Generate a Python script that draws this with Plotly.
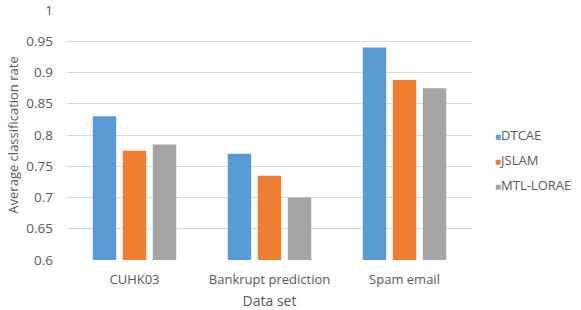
import plotly.graph_objects as go

categories = ["CUHK03", "Bankrupt prediction", "Spam email"]
dtcae = [0.83, 0.77, 0.94]
jslam = [0.775, 0.735, 0.888]
mtl_lorae = [0.785, 0.70, 0.875]
series_names = ["DTCAE", "JSLAM", "MTL-LORAE"]
colors = ["#5B9BD5", "#ED7D31", "#A5A5A5"]
y_ticks = [0.6, 0.65, 0.7, 0.75, 0.8, 0.85, 0.9, 0.95, 1]
y_tick_labels = ["0.6", "0.65", "0.7", "0.75", "0.8", "0.85", "0.9", "0.95", "1"]

fig = go.Figure()
for i, (name, vals, c) in enumerate(zip(series_names, [dtcae, jslam, mtl_lorae], colors)):
    fig.add_trace(go.Bar(x=categories, y=vals, name=name, marker_color=c,
                         marker_line_width=0, showlegend=False))
    # legend entry: small coloured square + name
    fig.add_trace(go.Scatter(
        x=[None], y=[None], mode="markers",
        marker=dict(size=1, color="rgba(0,0,0,0)", line=dict(width=0)),
        name=f'<span style="color:{c};font-size:10px">■</span>{name}',
        legendgroup=f"g{i}", showlegend=True))

font_family = "Open Sans, Noto Sans, sans-serif"
fig.update_layout(
    width=581, height=310,
    margin=dict(l=67, r=109, t=10, b=50, autoexpand=False),
    paper_bgcolor="white", plot_bgcolor="white",
    barmode="group", bargap=0.333, bargroupgap=0.22,
    font=dict(family=font_family, size=13, color="#595959"),
    showlegend=True,
    legend=dict(x=0.958, y=0.4, xanchor="left", yanchor="middle",
                font=dict(size=13, color="#595959"), tracegroupgap=5,
                itemwidth=30, bgcolor="rgba(0,0,0,0)"),
    xaxis=dict(title=dict(text="Data set", font=dict(size=14), standoff=11),
               showgrid=False, showline=False, ticks="", ticklabelstandoff=10,
               tickfont=dict(size=13)),
    yaxis=dict(title=dict(text="Average classification rate", font=dict(size=13), standoff=4),
               range=[0.6, 1.0], tickvals=y_ticks, ticktext=y_tick_labels,
               showgrid=True, gridcolor="#D9D9D9", gridwidth=1,
               zeroline=False, showline=False, ticks="", ticklabelstandoff=13,
               ticklabeloverflow="allow", tickfont=dict(size=13.5)),
)
fig.write_html("out.html", config={"displayModeBar": False},
               post_script="document.body.style.margin='0';")
